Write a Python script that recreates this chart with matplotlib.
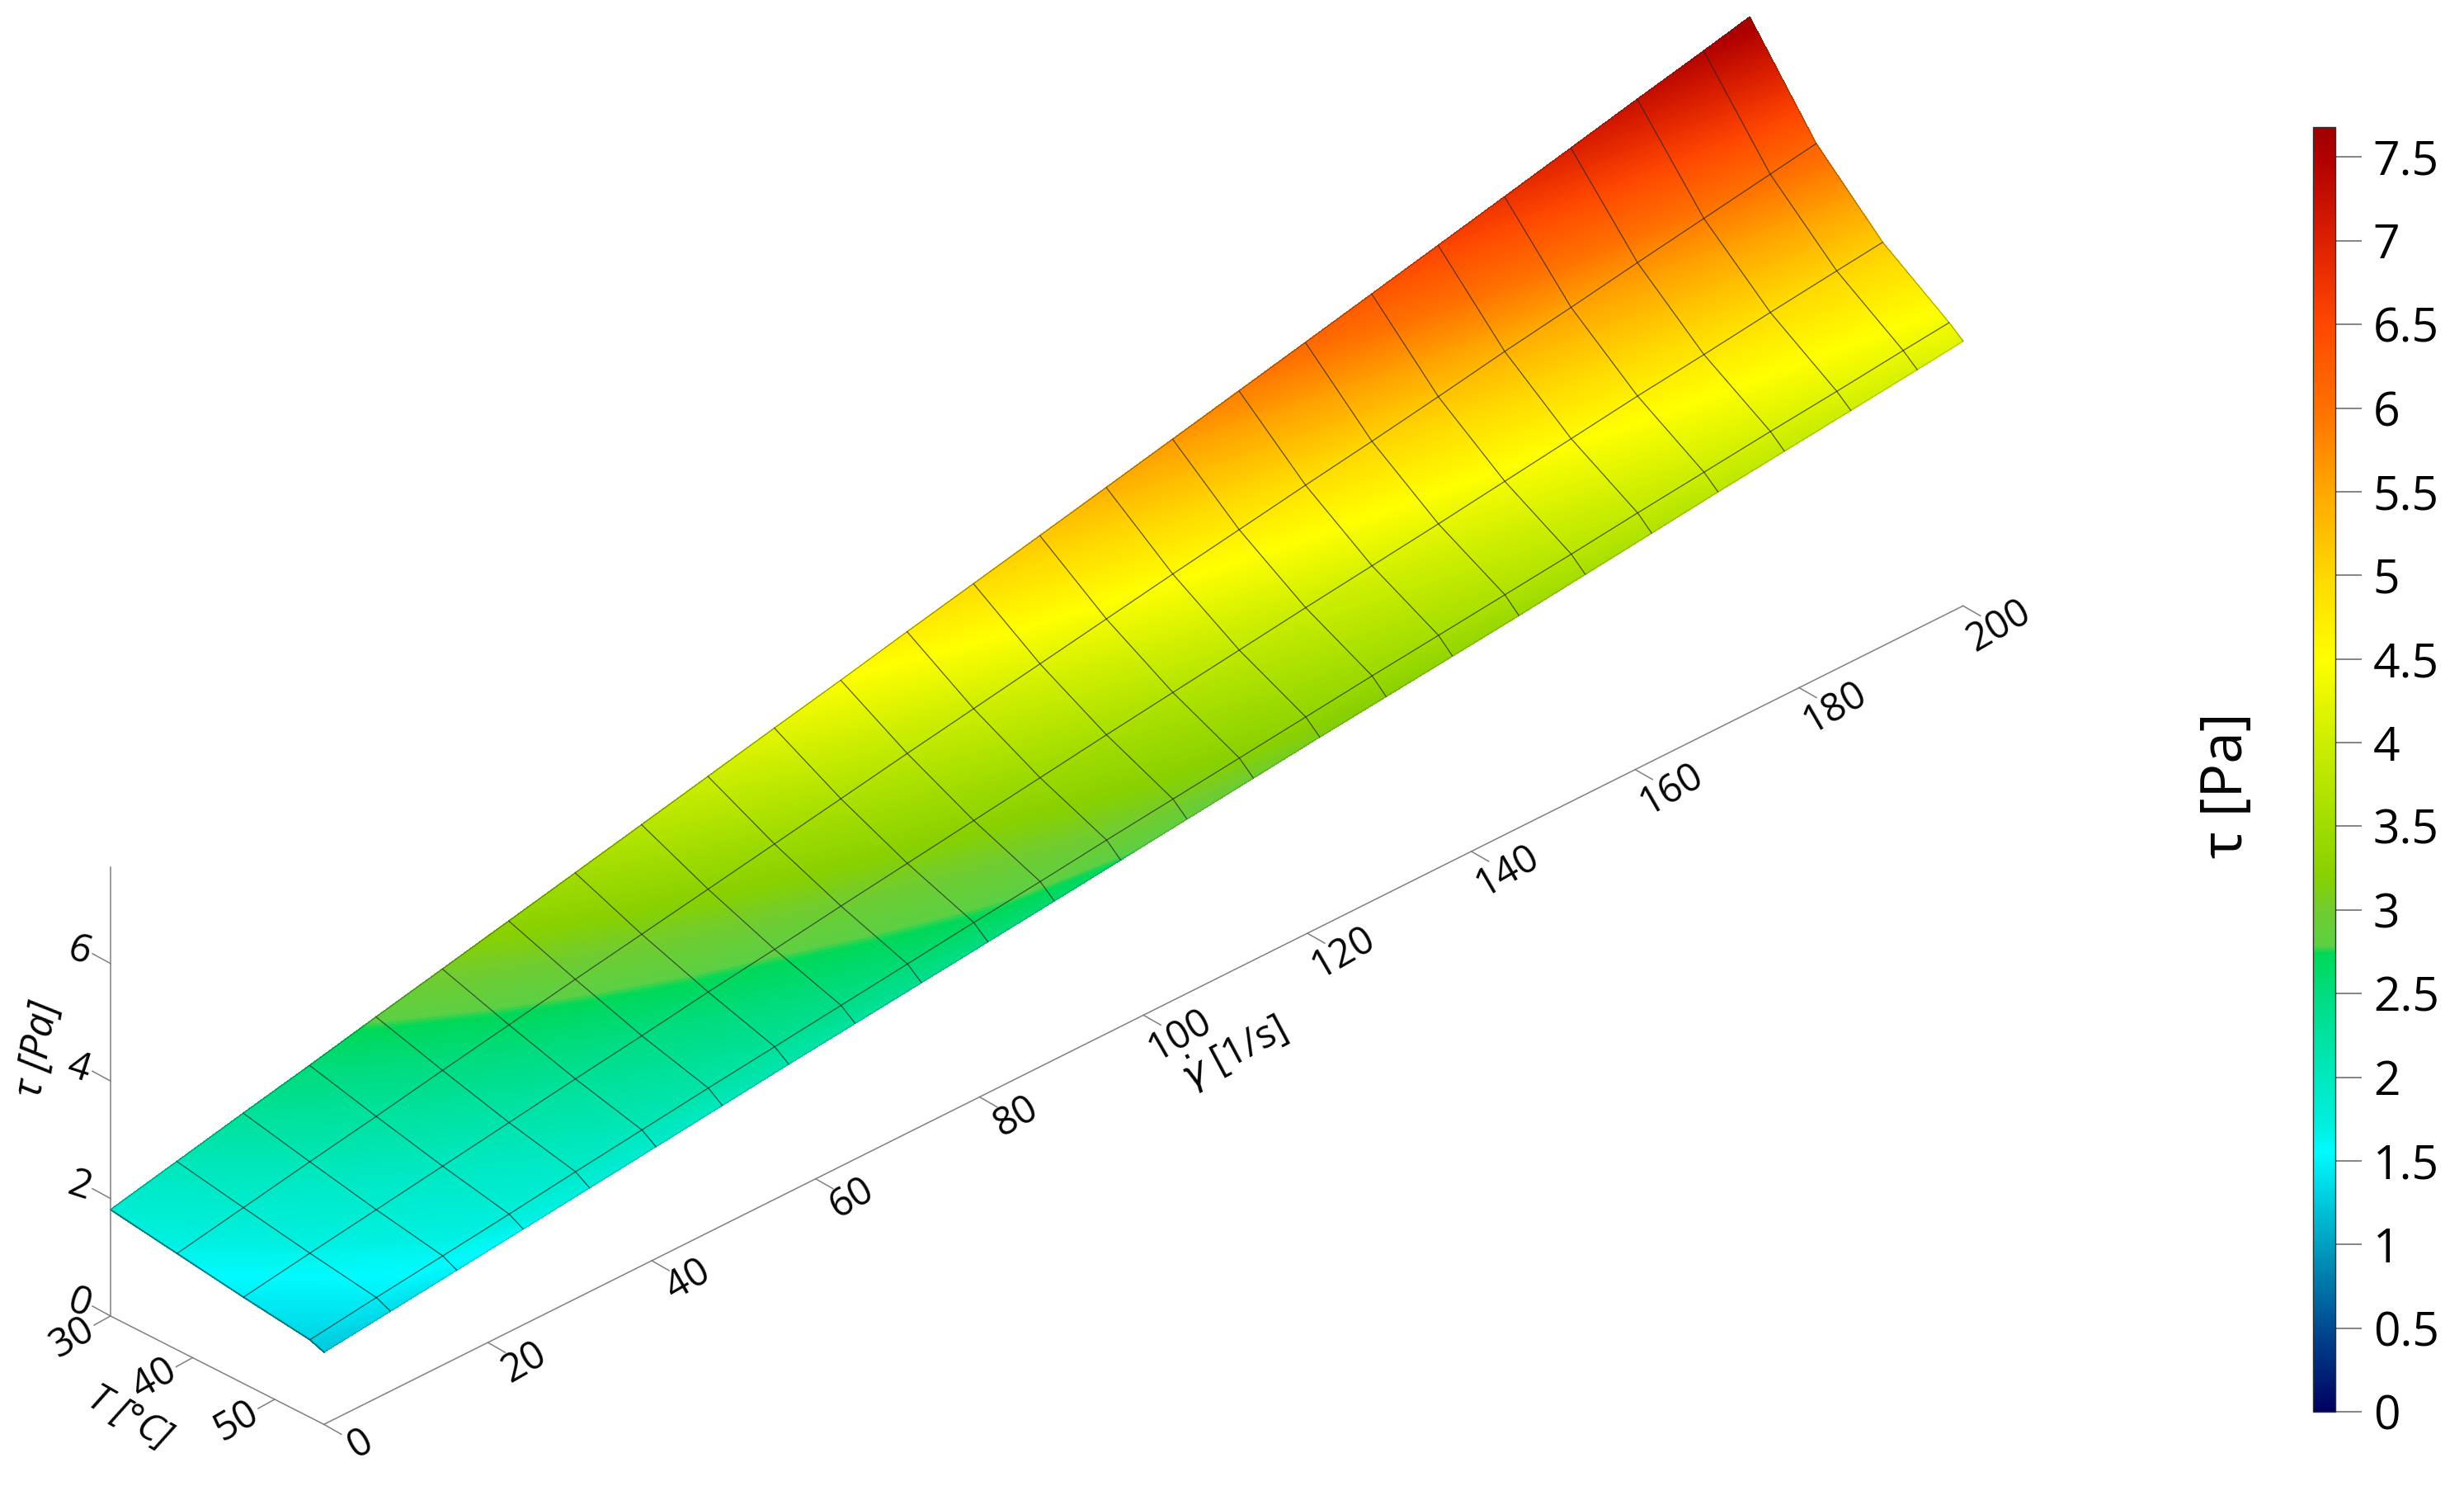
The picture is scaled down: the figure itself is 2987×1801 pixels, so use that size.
import numpy as np
import matplotlib
matplotlib.use("Agg")
import matplotlib.pyplot as plt
from matplotlib.colors import LinearSegmentedColormap, Normalize
from matplotlib.cm import ScalarMappable

plt.rcParams['font.family'] = ['Open Sans', 'DejaVu Sans']
plt.rcParams['mathtext.fontset'] = 'dejavusans'

W, H = 2987, 1801

# grid lines of the surface
temps = [30, 38.1, 46.2, 54.3, 56]
rates = [0, 8.1, 16.2, 24.3, 32.4, 40.5, 48.6, 56.7, 64.8, 72.9, 81, 89.1, 97.2,
         105.3, 113.4, 121.5, 129.6, 137.7, 145.8, 153.9, 162, 170.1, 178.2, 186.3, 194.4, 200]

# shear stress along each temperature line
tau_30 = [1.81, 2.06, 2.31, 2.55, 2.80, 3.04, 3.28, 3.52, 3.76, 4.00, 4.24, 4.47, 4.71,
          4.94, 5.17, 5.40, 5.63, 5.86, 6.09, 6.32, 6.55, 6.78, 7.01, 7.24, 7.46, 7.62]
tau_38 = [1.64, 1.85, 2.06, 2.26, 2.47, 2.67, 2.87, 3.06, 3.25, 3.44, 3.63, 3.82, 4.00,
          4.18, 4.36, 4.54, 4.71, 4.88, 5.04, 5.21, 5.39, 5.55, 5.72, 5.88, 6.04, 6.15]
tau_46 = [1.47, 1.65, 1.82, 1.99, 2.16, 2.33, 2.49, 2.66, 2.81, 2.97, 3.12, 3.27, 3.42,
          3.57, 3.71, 3.85, 3.99, 4.12, 4.25, 4.39, 4.53, 4.67, 4.79, 4.92, 5.04, 5.12]
tau_54 = [1.32, 1.47, 1.61, 1.75, 1.90, 2.04, 2.18, 2.31, 2.44, 2.57, 2.70, 2.82, 2.95,
          3.07, 3.19, 3.31, 3.43, 3.54, 3.65, 3.76, 3.88, 3.99, 4.10, 4.20, 4.31, 4.38]
tau_56 = [1.23, 1.36, 1.49, 1.62, 1.75, 1.88, 2.01, 2.14, 2.26, 2.38, 2.50, 2.62, 2.74,
          2.86, 2.98, 3.10, 3.21, 3.32, 3.43, 3.55, 3.67, 3.79, 3.90, 4.01, 4.12, 4.20]

t_ticks = [30, 40, 50]
rate_ticks = [0, 20, 40, 60, 80, 100, 120, 140, 160, 180, 200]
tau_ticks = [0, 2, 4, 6]
cbar_ticks = [0, 0.5, 1, 1.5, 2, 2.5, 3, 3.5, 4, 4.5, 5, 5.5, 6, 6.5, 7, 7.5]
cbar_labels = ['0', '0.5', '1', '1.5', '2', '2.5', '3', '3.5', '4', '4.5', '5', '5.5', '6', '6.5', '7', '7.5']

tau_max = 7.68
cmap_vals = [0, 0.5, 1, 1.4, 1.55, 1.7, 2, 2.5, 2.74, 2.78, 3, 3.2, 3.5, 4, 4.5, 5, 5.5, 6, 6.5, 7, 7.5, 7.68]
cmap_cols = ['#000060', '#004a90', '#00a0c0', '#00e2ee', '#00fbff', '#00f0e0', '#00e8c0', '#00dc80', '#00d858',
             '#5cd044', '#70cc30', '#88d000', '#a0dc00', '#ccee00', '#ffff00', '#ffd800', '#ffa800', '#ff7000',
             '#ff4800', '#dc2000', '#b00000', '#a00000']

txt_c = '#050505'
txt_w = 'medium'


def project(T, rate, tau):
    # oblique view of the box, slightly stretched towards the far end
    T = np.asarray(T, dtype=float)
    rate = np.asarray(rate, dtype=float)
    tau = np.asarray(tau, dtype=float)
    x = 134 + (T - 30) * 9.95 + rate * 9.935
    y = 1595 + (T - 30) * 5.05 - rate * 4.96 - tau * 71.2 * (1 + 0.073 * rate / 200)
    return x, y


fig = plt.figure(figsize=(W / 100, H / 100), dpi=100)
ax = fig.add_axes([0, 0, 1, 1])
ax.set_xlim(0, W)
ax.set_ylim(H, 0)
ax.axis('off')

cmap = LinearSegmentedColormap.from_list('tau', [(v / tau_max, c) for v, c in zip(cmap_vals, cmap_cols)], N=1024)
norm = Normalize(0, tau_max)

TT, RR = np.meshgrid(temps, rates, indexing='ij')
tau = np.array([tau_30, tau_38, tau_46, tau_54, tau_56])
X, Y = project(TT, RR, tau)

cs = ax.contourf(X, Y, tau, levels=np.linspace(0, tau_max, 500), cmap=cmap, norm=norm)
cs.set_edgecolor('face')
cs.set_linewidth(0.6)

# mesh lines on the surface
for i in range(1, len(temps) - 1):
    ax.plot(X[i], Y[i], color='#202020', lw=0.9, alpha=0.7)
for j in range(1, len(rates) - 1):
    ax.plot(X[:, j], Y[:, j], color='#202020', lw=0.9, alpha=0.7)
ax.plot(X[0], Y[0], color='#303030', lw=0.7, alpha=0.6)
ax.plot(X[-1], Y[-1], color='#303030', lw=0.7, alpha=0.25)
ax.plot(X[:, 0], Y[:, 0], color='#104040', lw=1.3, alpha=0.7)
ax.plot(X[:, -1], Y[:, -1], color='#404000', lw=0.7, alpha=0.5)

# axes of the box
axis_c = '#808080'
px, py = project([30, 30], [0, 0], [0, 7.64])
ax.plot(px, py, color=axis_c, lw=1.1)
px, py = project([30, 56], [0, 0], [0, 0])
ax.plot(px, py, color=axis_c, lw=1.1)
px, py = project([56, 56], [0, 200], [0, 0])
ax.plot(px, py, color=axis_c, lw=1.1)

for v in rate_ticks:
    px, py = project(56, v, 0)
    ax.plot([px, px + 21], [py, py + 12], color=axis_c, lw=1.1)
    ax.text(px + 44, py + 24, str(v), fontsize=34, rotation=30, ha='center', va='center',
            rotation_mode='anchor', color=txt_c, fontweight=txt_w)
for v in t_ticks:
    px, py = project(v, 0, 0)
    ax.plot([px, px - 20], [py, py + 11], color=axis_c, lw=1.1)
    ax.text(px - 46, py + 26, str(v), fontsize=34, rotation=30, ha='center', va='center',
            rotation_mode='anchor', color=txt_c, fontweight=txt_w)
for v in tau_ticks:
    px, py = project(30, 0, v)
    ax.plot([px, px - 22], [py, py - 12], color=axis_c, lw=1.1)
    ax.text(px - 38, py - 15, str(v), fontsize=34, rotation=-18, ha='center', va='center',
            rotation_mode='anchor', color=txt_c, fontweight=txt_w)

ax.text(156, 1718, 'T [°C]', fontsize=33, rotation=-30, style='italic', ha='center', va='center',
        rotation_mode='anchor', color=txt_c, fontweight=txt_w)
ax.text(46, 1272, 'τ [Pa]', fontsize=35, rotation=80, style='italic', ha='center', va='center',
        rotation_mode='anchor', color=txt_c, fontweight=txt_w)
ax.text(1495, 1276, r'$\dot{\gamma}$ [1/s]', fontsize=34, rotation=28, ha='center', va='center',
        rotation_mode='anchor', color=txt_c, fontweight=txt_w)

# colour bar
cax = fig.add_axes([2804 / W, 1 - 1711 / H, 27 / W, (1711 - 154) / H])
cb = fig.colorbar(ScalarMappable(norm=norm, cmap=cmap), cax=cax)
cb.set_ticks(cbar_ticks)
cb.set_ticklabels(cbar_labels)
cb.ax.tick_params(length=23, width=1.2, color='#707070', labelsize=41, pad=10, labelcolor='black')
cb.outline.set_edgecolor('#303030')
cb.outline.set_linewidth(1.0)
fig.text(2700 / W, 1 - 952 / H, 'τ [Pa]', fontsize=50, rotation=90, ha='center', va='center', color=txt_c)

fig.savefig('out.png', dpi=100, facecolor='white')
